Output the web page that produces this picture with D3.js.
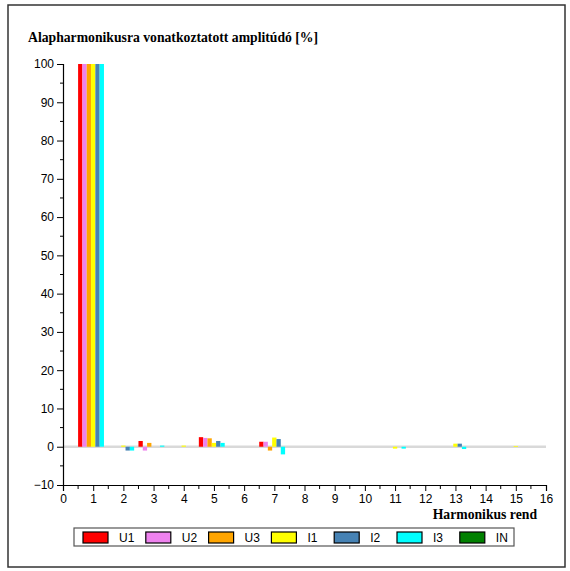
<!DOCTYPE html>
<html><head><meta charset="utf-8">
<script src="https://cdn.jsdelivr.net/npm/d3@7"></script>
<style>body{margin:0;background:#fff}svg{display:block}</style>
</head><body>
<script>
const harmonics = [1,2,3,4,5,6,7,8,9,10,11,12,13,14,15];
const seriesNames = ["U1","U2","U3","I1","I2","I3","IN"];
const seriesColors = ["#ff0000","#ee82ee","#ffa500","#ffff00","#4682b4","#00ffff","#008000"];
const U1 = [100, 0, 1.5, 0, 2.5, 0, 1.3, 0, 0, 0, 0, 0, 0, 0, 0];
const U2 = [100, 0, -1.0, 0, 2.3, 0, 1.3, 0, 0, 0, 0, 0, 0, 0, 0];
const U3 = [100, 0, 1.0, 0, 2.2, 0, -1.0, 0, 0, 0, 0, 0, 0, 0, 0];
const I1 = [100, 0.3, 0, 0.3, 1.0, 0, 2.4, 0, 0, 0, -0.5, 0, 0.8, 0, 0.2];
const I2 = [100, -1.0, 0, 0, 1.5, 0, 2.0, 0, 0, 0, 0, 0, 0.8, 0, 0];
const I3 = [100, -1.0, 0.3, 0, 1.0, 0, -2.0, 0, 0, 0, -0.5, 0, -0.6, 0, 0];
const IN = [0, 0, 0, 0, 0, 0, 0, 0, 0, 0, 0, 0, 0, 0, 0];
const seriesValues = [U1, U2, U3, I1, I2, I3, IN];
const yTicks = [-10,0,10,20,30,40,50,60,70,80,90,100];
const xTicks = [0,1,2,3,4,5,6,7,8,9,10,11,12,13,14,15,16];
const titleText = "Alapharmonikusra vonatkoztatott amplitúdó [%]";
const xTitleText = "Harmonikus rend";

const W = 570, H = 571;
const svg = d3.select("body").append("svg").attr("width", W).attr("height", H);
svg.append("rect").attr("x", 8).attr("y", 5).attr("width", 557).attr("height", 562)
  .attr("fill", "#fff").attr("stroke", "#333").attr("stroke-width", 1.5);

const x = d3.scaleLinear().domain([0, 16]).range([63, 546]);
const y = d3.scaleLinear().domain([-10, 100]).range([485, 64]);

svg.append("text").attr("x", 28).attr("y", 42).text(titleText)
  .attr("font-family", "Liberation Serif, Times New Roman, serif").attr("font-weight", "bold").attr("font-size", 13.7);

// zero baseline
svg.append("line").attr("x1", x(0)).attr("x2", x(16)).attr("y1", y(0)).attr("y2", y(0))
  .attr("stroke", "#d9d9d9").attr("stroke-width", 2.5);

// bars
const n = seriesNames.length;
seriesValues.forEach((vals, k) => {
  svg.append("g").selectAll("rect").data(vals.map((v, i) => ({h: harmonics[i], v})).filter(d => d.v !== 0))
    .join("rect")
    .attr("x", d => x(d.h - 0.5 + k / n))
    .attr("width", d => x(d.h - 0.5 + (k + 1) / n) - x(d.h - 0.5 + k / n))
    .attr("y", d => y(Math.max(0, d.v)))
    .attr("height", d => Math.abs(y(d.v) - y(0)))
    .attr("fill", seriesColors[k]);
});

// y axis
const yAxis = d3.axisLeft(y).tickValues(yTicks).tickSize(6).tickPadding(3).tickFormat(d3.format("d"));
const gy = svg.append("g").attr("transform", `translate(${x(0)},0)`).call(yAxis);
gy.append("g").selectAll("line").data(d3.range(-5, 100, 10)).join("line")
  .attr("x1", -3).attr("x2", 0).attr("y1", d => y(d)).attr("y2", d => y(d)).attr("stroke", "#000");
// x axis
const xAxis = d3.axisBottom(x).tickValues(xTicks).tickSize(6).tickPadding(3).tickFormat(d3.format("d"));
const gx = svg.append("g").attr("transform", `translate(0,${y(-10)})`).call(xAxis);
gx.append("g").selectAll("line").data(d3.range(0.5, 16, 1)).join("line")
  .attr("x1", d => x(d)).attr("x2", d => x(d)).attr("y1", 0).attr("y2", 4).attr("stroke", "#000");
[gx, gy].forEach(g => {
  g.select(".domain").attr("stroke", "#000").attr("stroke-width", 1.2);
  g.selectAll("text").attr("font-family", "Liberation Sans, Arial, sans-serif").attr("font-size", 12).attr("fill", "#000");
});

svg.append("text").attr("x", 537).attr("y", 519).attr("text-anchor", "end").text(xTitleText)
  .attr("font-family", "Liberation Serif, Times New Roman, serif").attr("font-weight", "bold").attr("font-size", 13.7);

// legend
const lg = svg.append("g");
lg.append("rect").attr("x", 74).attr("y", 528).attr("width", 440).attr("height", 18)
  .attr("fill", "#fff").attr("stroke", "#555").attr("stroke-width", 1.2);
const items = lg.selectAll("g.item").data(seriesNames).join("g")
  .attr("transform", (d, i) => `translate(${83 + i * 62.8},0)`);
items.append("rect").attr("x", 0).attr("y", 532).attr("width", 25).attr("height", 11)
  .attr("fill", (d, i) => seriesColors[i]).attr("stroke", "#000").attr("stroke-width", 1.2);
items.append("text").attr("x", 36).attr("y", 542).text(d => d)
  .attr("font-family", "Liberation Sans, Arial, sans-serif").attr("font-size", 12).attr("fill", "#000");
</script>
</body></html>
